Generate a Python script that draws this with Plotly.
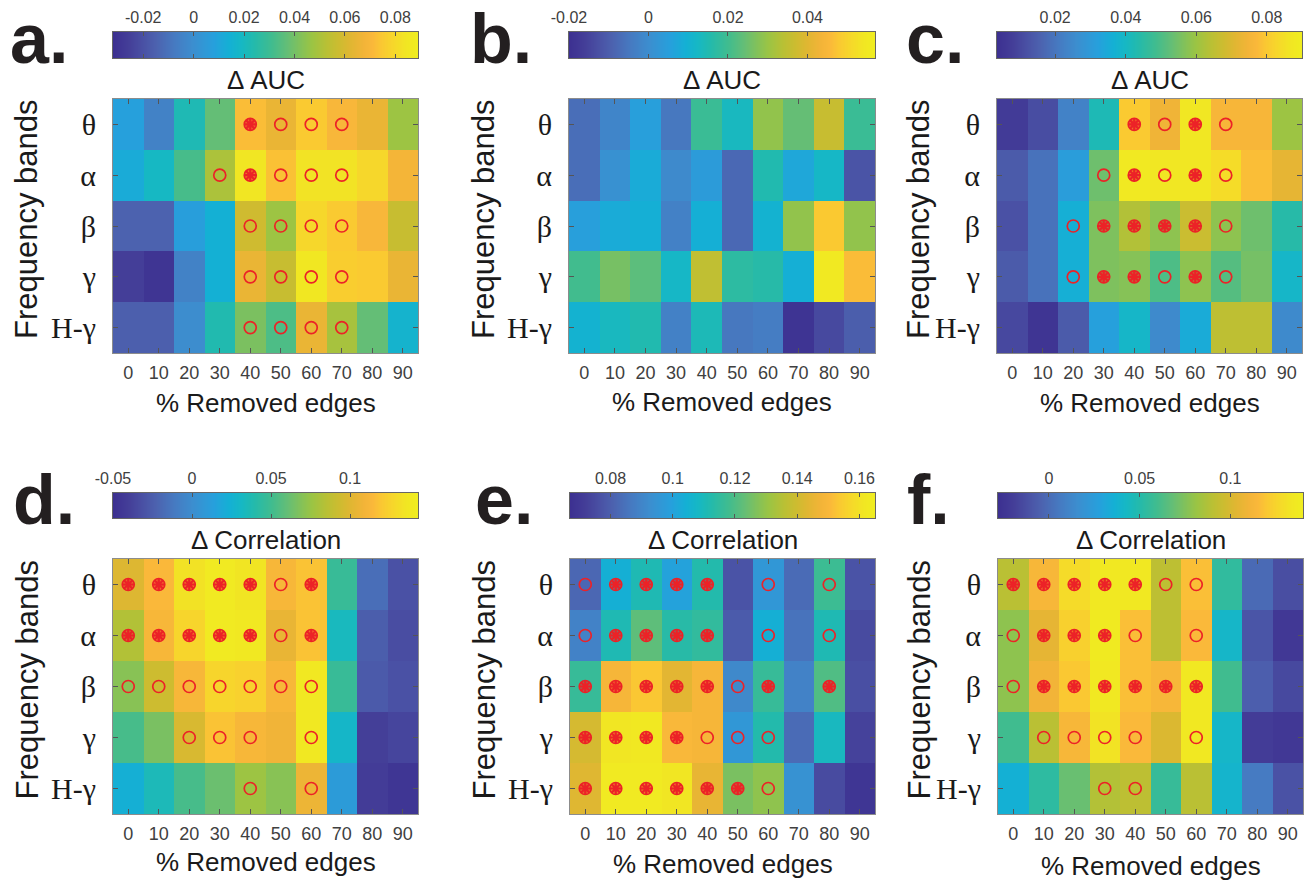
import plotly.graph_objects as go

W, H = 1305, 882

edges = [0, 10, 20, 30, 40, 50, 60, 70, 80, 90]
edge_labels = ["0", "10", "20", "30", "40", "50", "60", "70", "80", "90"]
bands = ["θ", "α", "β", "γ", "H-γ"]

# ---- Delta AUC (panels a-c) ----
auc_a = [
    [0.008, -0.005, 0.022, 0.037, 0.072, 0.065, 0.075, 0.070, 0.065, 0.047],
    [0.012, 0.019, 0.032, 0.050, 0.084, 0.073, 0.083, 0.083, 0.079, 0.068],
    [-0.015, -0.015, 0.007, 0.014, 0.058, 0.047, 0.079, 0.075, 0.070, 0.056],
    [-0.026, -0.030, -0.005, 0.014, 0.065, 0.056, 0.085, 0.076, 0.075, 0.065],
    [-0.016, -0.016, -0.001, 0.023, 0.041, 0.033, 0.065, 0.049, 0.037, 0.016],
]
auc_b = [
    [-0.007, -0.002, 0.005, -0.005, 0.019, 0.013, 0.029, 0.024, 0.036, 0.019],
    [-0.007, 0.001, 0.008, -0.001, 0.004, -0.008, 0.015, 0.007, 0.012, -0.012],
    [0.005, 0.008, 0.009, -0.003, 0.009, -0.008, 0.010, 0.029, 0.048, 0.029],
    [0.020, 0.026, 0.023, 0.012, 0.035, 0.017, 0.016, 0.009, 0.055, 0.046],
    [0.010, 0.013, 0.015, -0.003, 0.014, -0.005, -0.004, -0.019, -0.014, -0.010],
]
auc_c = [
    [0.007, 0.011, 0.023, 0.042, 0.080, 0.074, 0.087, 0.076, 0.076, 0.060],
    [0.014, 0.019, 0.031, 0.054, 0.088, 0.087, 0.087, 0.084, 0.078, 0.072],
    [0.012, 0.019, 0.036, 0.056, 0.063, 0.058, 0.067, 0.058, 0.054, 0.044],
    [0.014, 0.019, 0.036, 0.056, 0.057, 0.050, 0.058, 0.051, 0.055, 0.039],
    [0.010, 0.005, 0.014, 0.032, 0.039, 0.025, 0.035, 0.065, 0.065, 0.025],
]
# ---- Delta Correlation (panels d-f) ----
corr_d = [
    [0.099, 0.114, 0.133, 0.139, 0.135, 0.112, 0.118, 0.047, -0.017, -0.031],
    [0.083, 0.112, 0.126, 0.139, 0.137, 0.104, 0.118, 0.033, -0.025, -0.033],
    [0.070, 0.093, 0.112, 0.126, 0.124, 0.112, 0.137, 0.047, -0.027, -0.031],
    [0.052, 0.066, 0.097, 0.118, 0.112, 0.108, 0.137, 0.029, -0.040, -0.037],
    [0.023, 0.035, 0.052, 0.062, 0.076, 0.070, 0.106, 0.010, -0.042, -0.046],
]
corr_e = [
    [0.082, 0.104, 0.111, 0.100, 0.112, 0.077, 0.096, 0.083, 0.117, 0.077],
    [0.089, 0.111, 0.122, 0.113, 0.115, 0.079, 0.104, 0.085, 0.111, 0.075],
    [0.116, 0.149, 0.153, 0.144, 0.149, 0.091, 0.116, 0.089, 0.120, 0.076],
    [0.141, 0.161, 0.162, 0.150, 0.149, 0.096, 0.112, 0.083, 0.109, 0.073],
    [0.143, 0.163, 0.163, 0.161, 0.145, 0.126, 0.129, 0.094, 0.075, 0.069],
]
corr_f = [
    [0.090, 0.113, 0.128, 0.135, 0.135, 0.091, 0.117, 0.054, -0.001, -0.013],
    [0.078, 0.105, 0.123, 0.137, 0.117, 0.091, 0.115, 0.041, -0.010, -0.023],
    [0.078, 0.110, 0.120, 0.135, 0.117, 0.113, 0.135, 0.059, -0.006, -0.015],
    [0.059, 0.090, 0.113, 0.132, 0.115, 0.101, 0.135, 0.041, -0.021, -0.023],
    [0.036, 0.053, 0.069, 0.088, 0.091, 0.056, 0.090, 0.039, 0.006, -0.011],
]

# significance marks: 0 none, 1 circle, 2 circle + asterisk
sig_a = [
    [0, 0, 0, 0, 2, 1, 1, 1, 0, 0],
    [0, 0, 0, 1, 2, 1, 1, 1, 0, 0],
    [0, 0, 0, 0, 1, 1, 1, 1, 0, 0],
    [0, 0, 0, 0, 1, 1, 1, 1, 0, 0],
    [0, 0, 0, 0, 1, 1, 1, 1, 0, 0],
]
sig_b = [[0] * 10 for _ in range(5)]
sig_c = [
    [0, 0, 0, 0, 2, 1, 2, 1, 0, 0],
    [0, 0, 0, 1, 2, 1, 2, 1, 0, 0],
    [0, 0, 1, 2, 2, 2, 2, 1, 0, 0],
    [0, 0, 1, 2, 2, 1, 2, 1, 0, 0],
    [0, 0, 0, 0, 0, 0, 0, 0, 0, 0],
]
sig_d = [
    [2, 2, 2, 2, 2, 1, 2, 0, 0, 0],
    [2, 2, 2, 2, 2, 1, 2, 0, 0, 0],
    [1, 1, 1, 1, 1, 1, 1, 0, 0, 0],
    [0, 0, 1, 1, 1, 0, 1, 0, 0, 0],
    [0, 0, 0, 0, 1, 0, 1, 0, 0, 0],
]
sig_e = [
    [1, 2, 2, 2, 2, 0, 1, 0, 1, 0],
    [1, 2, 2, 2, 2, 0, 1, 0, 1, 0],
    [2, 2, 2, 2, 2, 1, 2, 0, 2, 0],
    [2, 2, 2, 2, 1, 1, 1, 0, 0, 0],
    [2, 2, 2, 2, 2, 2, 1, 0, 0, 0],
]
sig_f = [
    [2, 2, 2, 2, 2, 1, 1, 0, 0, 0],
    [1, 2, 2, 2, 1, 0, 1, 0, 0, 0],
    [1, 2, 2, 2, 2, 2, 2, 0, 0, 0],
    [0, 1, 1, 1, 1, 0, 1, 0, 0, 0],
    [0, 0, 0, 1, 1, 0, 0, 0, 0, 0],
]

# colour limits of each panel
clim_a = [-0.032, 0.089]
clim_b = [-0.020, 0.057]
clim_c = [0.0035, 0.090]
clim_d = [-0.050, 0.143]
clim_e = [0.067, 0.165]
clim_f = [-0.028, 0.140]

# colorbar ticks
cb_ticks_a = [-0.02, 0, 0.02, 0.04, 0.06, 0.08]
cb_ticks_b = [-0.02, 0, 0.02, 0.04]
cb_ticks_c = [0.02, 0.04, 0.06, 0.08]
cb_ticks_d = [-0.05, 0, 0.05, 0.1]
cb_ticks_e = [0.08, 0.1, 0.12, 0.14, 0.16]
cb_ticks_f = [0, 0.05, 0.1]
cb_text_a = ["-0.02", "0", "0.02", "0.04", "0.06", "0.08"]
cb_text_b = ["-0.02", "0", "0.02", "0.04"]
cb_text_c = ["0.02", "0.04", "0.06", "0.08"]
cb_text_d = ["-0.05", "0", "0.05", "0.1"]
cb_text_e = ["0.08", "0.1", "0.12", "0.14", "0.16"]
cb_text_f = ["0", "0.05", "0.1"]

letters = ["a.", "b.", "c.", "d.", "e.", "f."]
cb_titles = ["Δ AUC", "Δ AUC", "Δ AUC", "Δ Correlation", "Δ Correlation", "Δ Correlation"]

# parula-like colormap as it appears in the printed figure
cmap_pos = [0.00, 0.05, 0.10, 0.14, 0.20, 0.26, 0.33, 0.38, 0.42, 0.46, 0.52, 0.57,
            0.61, 0.65, 0.70, 0.74, 0.78, 0.82, 0.85, 0.88, 0.92, 0.96, 1.00]
cmap_rgb = [(60, 48, 145), (68, 62, 152), (74, 82, 165), (76, 98, 175), (70, 122, 193),
            (60, 142, 207), (38, 160, 220), (20, 176, 212), (22, 184, 196), (35, 186, 172),
            (65, 188, 142), (100, 190, 118), (128, 193, 92), (155, 196, 68), (185, 192, 52),
            (205, 188, 48), (225, 182, 50), (242, 180, 56), (250, 184, 58), (250, 200, 50),
            (246, 216, 42), (241, 230, 35), (240, 238, 32)]
parula = [[p, "rgb(%d,%d,%d)" % c] for p, c in zip(cmap_pos, cmap_rgb)]

panels = [
    dict(z=auc_a, sig=sig_a, clim=clim_a, tv=cb_ticks_a, tt=cb_text_a, box=(113, 418, 99, 353), cb=(32, 58),
         letter_x=8, ytitle_x=27, xtitle_y=403),
    dict(z=auc_b, sig=sig_b, clim=clim_b, tv=cb_ticks_b, tt=cb_text_b, box=(569, 875, 99, 353), cb=(32, 58),
         letter_x=468, ytitle_x=484, xtitle_y=402),
    dict(z=auc_c, sig=sig_c, clim=clim_c, tv=cb_ticks_c, tt=cb_text_c, box=(997, 1302, 99, 353), cb=(32, 58),
         letter_x=904, ytitle_x=919, xtitle_y=403),
    dict(z=corr_d, sig=sig_d, clim=clim_d, tv=cb_ticks_d, tt=cb_text_d, box=(113, 418, 559, 814), cb=(493, 518),
         letter_x=11, ytitle_x=27, xtitle_y=862),
    dict(z=corr_e, sig=sig_e, clim=clim_e, tv=cb_ticks_e, tt=cb_text_e, box=(570, 875, 559, 814), cb=(493, 518),
         letter_x=473, ytitle_x=484, xtitle_y=864),
    dict(z=corr_f, sig=sig_f, clim=clim_f, tv=cb_ticks_f, tt=cb_text_f, box=(998, 1303, 559, 814), cb=(493, 518),
         letter_x=905, ytitle_x=919, xtitle_y=866),
]

SANS = "Liberation Sans, Arial, Helvetica, sans-serif"
SERIF = "Liberation Serif, Times New Roman, serif"
RED = "#ec2227"
FRAME = "#8c8c8c"
TICKC = "#555555"

fig = go.Figure()
layout = dict(width=W, height=H, margin=dict(l=0, r=0, t=0, b=0, autoexpand=False),
              paper_bgcolor="white", plot_bgcolor="white", showlegend=False)
annotations = []


def fx(px):
    return px / W


def fy(py):
    return 1 - py / H


for k, p in enumerate(panels):
    i = k + 1
    j = k + 7
    x0, x1, y0, y1 = p["box"]
    cz0, cz1 = p["clim"]
    xa, ya = "x%d" % i, "y%d" % i
    xc, yc = "x%d" % j, "y%d" % j

    fig.add_trace(go.Heatmap(x=edges, y=bands, z=p["z"], colorscale=parula, zmin=cz0, zmax=cz1,
                             showscale=False, xaxis=xa, yaxis=ya, hoverinfo="skip"))

    cx, cy, sx, sy = [], [], [], []
    for r, row in enumerate(p["sig"]):
        for c, v in enumerate(row):
            if v >= 1:
                cx.append(edges[c]); cy.append(bands[r])
            if v == 2:
                sx.append(edges[c]); sy.append(bands[r])
    if cx:
        fig.add_trace(go.Scatter(x=cx, y=cy, mode="markers", xaxis=xa, yaxis=ya, hoverinfo="skip",
                                 marker=dict(symbol="circle-open", size=12, color=RED,
                                             line=dict(width=1.7, color=RED))))
    if sx:
        fig.add_trace(go.Scatter(x=sx, y=sy, mode="markers", xaxis=xa, yaxis=ya, hoverinfo="skip",
                                 marker=dict(symbol="circle", size=11, color="rgba(236,34,39,0.55)",
                                             line=dict(width=0))))
        fig.add_trace(go.Scatter(x=sx, y=sy, mode="markers", xaxis=xa, yaxis=ya, hoverinfo="skip",
                                 marker=dict(symbol="asterisk-open", size=10, color=RED,
                                             line=dict(width=2.2, color=RED))))

    # colorbar drawn as a smoothed heatmap spanning the colour limits
    fig.add_trace(go.Heatmap(x=[cz0, cz1], y=[0, 1], z=[[cz0, cz1], [cz0, cz1]], zsmooth="best",
                             colorscale=parula, zmin=cz0, zmax=cz1, showscale=False,
                             xaxis=xc, yaxis=yc, hoverinfo="skip"))

    layout["xaxis%d" % i] = dict(domain=[fx(x0), fx(x1)], anchor=ya, range=[-5, 95],
                                 tickvals=edges, ticktext=edge_labels, ticks="inside", ticklen=5,
                                 tickcolor=TICKC, showline=True, linecolor=FRAME, linewidth=1,
                                 mirror="ticks", showgrid=False, zeroline=False, automargin=False,
                                 tickfont=dict(family=SANS, size=18, color="#404040"),
                                 ticklabelstandoff=3, fixedrange=True)
    layout["yaxis%d" % i] = dict(domain=[fy(y1), fy(y0)], anchor=xa, range=[4.5, -0.5],
                                 type="category", categoryorder="array", categoryarray=bands,
                                 ticks="inside", ticklen=5, tickcolor=TICKC, showline=True,
                                 linecolor=FRAME, linewidth=1, mirror="ticks", showgrid=False,
                                 zeroline=False, automargin=False,
                                 tickfont=dict(family=SERIF, size=30, color="#1a1a1a"),
                                 ticklabelstandoff=10, fixedrange=True)
    cb0, cb1 = p["cb"]
    layout["xaxis%d" % j] = dict(domain=[fx(x0), fx(x1)], anchor=yc, range=[cz0, cz1], side="top",
                                 tickvals=p["tv"], ticktext=p["tt"], ticks="inside", ticklen=4,
                                 tickcolor=TICKC, showline=True, linecolor="#666666", linewidth=1,
                                 mirror="ticks", showgrid=False, zeroline=False, automargin=False,
                                 tickfont=dict(family=SANS, size=16, color="#404040"),
                                 ticklabelstandoff=2, fixedrange=True)
    layout["yaxis%d" % j] = dict(domain=[fy(cb1), fy(cb0)], anchor=xc, range=[0, 1],
                                 showticklabels=False, ticks="", showline=True, linecolor="#666666",
                                 linewidth=1, mirror=True, showgrid=False, zeroline=False,
                                 automargin=False, fixedrange=True)

    xm = (x0 + x1) / 2
    annotations.append(dict(text=letters[k], x=fx(p["letter_x"]), y=fy(cb0 + 7), xref="paper", yref="paper",
                            xanchor="left", yanchor="middle", showarrow=False,
                            font=dict(family=SANS, size=70, color="#231f20", weight=700)))
    annotations.append(dict(text=cb_titles[k], x=fx(xm), y=fy(cb1 + 22), xref="paper", yref="paper",
                            xanchor="center", yanchor="middle", showarrow=False,
                            font=dict(family=SANS, size=26, color="#1a1a1a")))
    annotations.append(dict(text="% Removed edges", x=fx(xm), y=fy(p["xtitle_y"]), xref="paper",
                            yref="paper", xanchor="center", yanchor="middle", showarrow=False,
                            font=dict(family=SANS, size=26, color="#1a1a1a")))
    annotations.append(dict(text="Frequency bands", x=fx(p["ytitle_x"]), y=fy((y0 + y1) / 2 - 7),
                            xref="paper", yref="paper", xanchor="center", yanchor="middle",
                            textangle=-90, showarrow=False,
                            font=dict(family=SANS, size=31, color="#1a1a1a")))

layout["annotations"] = annotations
fig.update_layout(**layout)
fig.write_html("out.html")
